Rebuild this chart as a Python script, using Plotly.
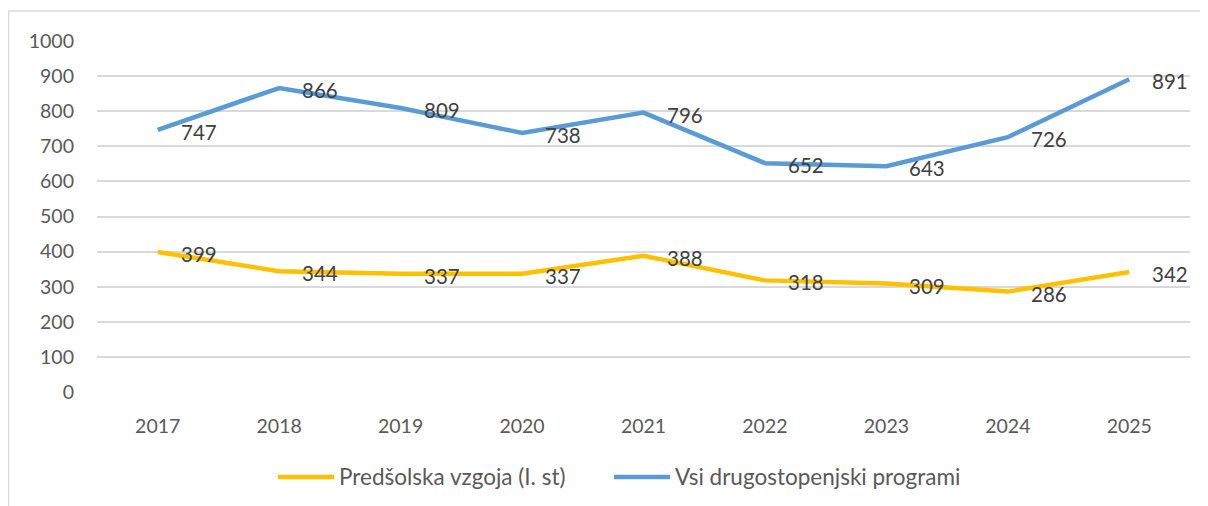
import plotly.graph_objects as go

## Data
years = [2017, 2018, 2019, 2020, 2021, 2022, 2023, 2024, 2025]
predsolska = [399, 344, 337, 337, 388, 318, 309, 286, 342]
drugostopenjski = [747, 866, 809, 738, 796, 652, 643, 726, 891]
series = [("Predšolska vzgoja (I. st)", predsolska, "#FFC000"),
          ("Vsi drugostopenjski programi", drugostopenjski, "#5B9BD5")]

## Layout (page has an 8px body margin, so the figure is 8px smaller)
W, H = 1200, 498
L, R, T, B = 89, 18, 33, 114
pw, ph = W - L - R, H - T - B

def px(fx):
    return (fx - L) / pw

def py(fy):
    return (H - B - fy) / ph

fig = go.Figure()
for name, vals, color in series:
    fig.add_trace(go.Scatter(x=years, y=vals, name=name, mode="lines",
        line=dict(color=color, width=4.5), showlegend=False))
    # data labels placed to the right of each point
    for x, v in zip(years, vals):
        fig.add_annotation(x=x, y=v, text=str(v), showarrow=False,
            xanchor="left", yanchor="middle", xshift=21, yshift=-2,
            font=dict(size=20.5, color="#404040"))

# legend drawn by hand (long line samples like the original)
leg_y = py(469)
leg_x = [270, 606]
for (name, vals, color), lx in zip(series, leg_x):
    fig.add_shape(type="line", xref="paper", yref="paper",
        x0=px(lx), x1=px(lx + 56), y0=leg_y, y1=leg_y,
        line=dict(color=color, width=4.5))
    fig.add_annotation(xref="paper", yref="paper", x=px(lx + 59), y=leg_y,
        text=name, showarrow=False, xanchor="left", yanchor="middle",
        font=dict(size=22.5, color="#595959"))

# chart border (left and top edges visible)
fig.add_shape(type="line", xref="paper", yref="paper", x0=px(0.5), x1=px(0.5),
    y0=-1, y1=py(3), line=dict(color="#D9D9D9", width=1.5))
fig.add_shape(type="line", xref="paper", yref="paper", x0=px(0.5), x1=1.5,
    y0=py(3), y1=py(3), line=dict(color="#D9D9D9", width=1.5))

fig.update_layout(width=W, height=H,
    margin=dict(l=L, r=R, t=T, b=B),
    paper_bgcolor="white", plot_bgcolor="white",
    font=dict(family="Lato, Open Sans, sans-serif", color="#595959", size=19.5),
    showlegend=False)
fig.update_xaxes(range=[2016.5, 2025.5], tickvals=years, showgrid=False,
    zeroline=False, showline=False, ticks="", ticklabelstandoff=20)
fig.update_yaxes(range=[0, 1000], dtick=100, gridcolor="#D9D9D9", gridwidth=1.5,
    zeroline=False, showline=False, ticks="", ticklabelstandoff=22)

fig.write_html("out.html")
